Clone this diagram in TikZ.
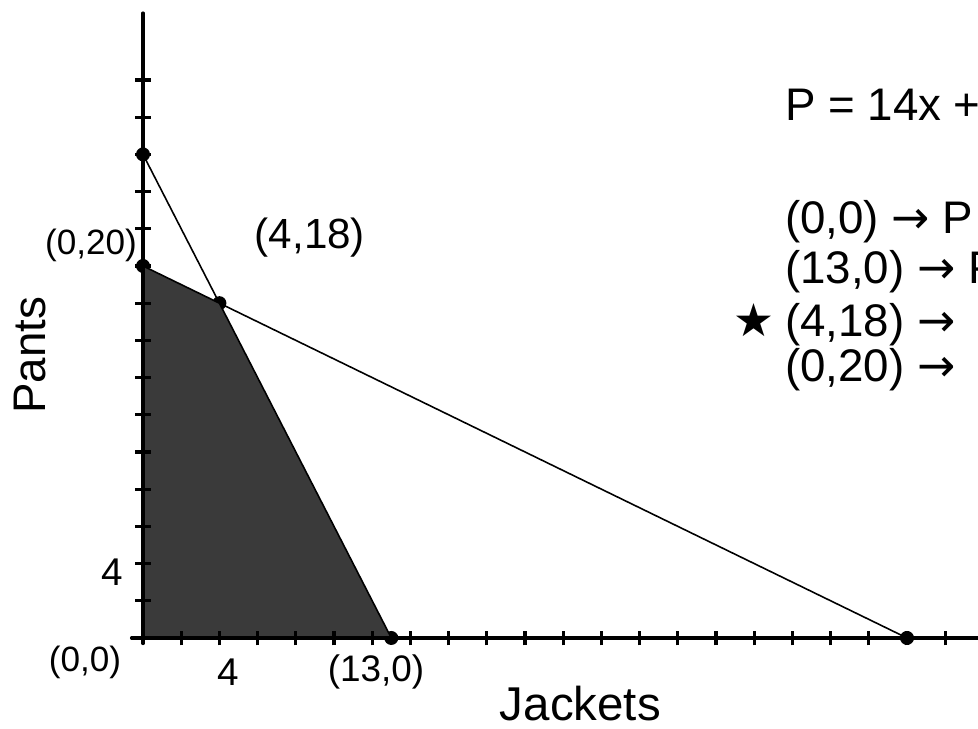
\documentclass[tikz,border=0pt]{standalone}
\usepackage{fontspec}
\setmainfont{Liberation Sans}
\newfontfamily\symfont{DejaVu Sans}
\usepackage{tikz}
\usetikzlibrary{positioning}
\definecolor{scribble}{HTML}{3A3A3A}
\newcommand{\hand}[1]{\fontsize{#1}{#1}\selectfont}

\begin{document}
\begin{tikzpicture}[
  x=0.382cm, y=0.372cm,
  axis/.style={line width=1.8pt, line cap=round},
  tick/.style={line width=1.8pt},
  edge/.style={line width=0.9pt},
  dot/.style={circle, fill=black, inner sep=0pt, minimum size=0.28cm},
  region/.style={fill=scribble},
  lbl/.style={inner sep=0pt, font=\hand{20pt}},
  big/.style={inner sep=0pt, font=\hand{26pt}}
]
  \useasboundingbox (-7.487,-4.892) rectangle (43.717,34.30);

  %% Axes
  \coordinate (o) at (0,0);
  \coordinate (xl) at (-0.6,0);
  \coordinate (xr) at (44,0);
  \coordinate (yb) at (0,-0.3);
  \coordinate (yt) at (0,33.6);

  %% Corner points
  \node[dot] (p26) at (0,26) {};
  \node[dot] (p20) at (0,20) {};
  \node[dot] (p418) at (4,18) {};
  \node[dot] (p13) at (13,0) {};
  \node[dot] (p40) at (40,0) {};

  %% Feasible region
  \fill[region] (o) -- (p20.center) -- (p418.center) -- (p13.center) -- cycle;

  \draw[axis] (xl) -- (xr);
  \draw[axis] (yb) -- (yt);
  \foreach \i in {2,4,...,42}
    \draw[tick] (\i,-0.4) -- (\i,0.4);
  \foreach \j in {2,4,...,30}
    \draw[tick] (-0.4,\j) -- (0.4,\j);

  %% Constraint lines
  \draw[edge] (p26.center) -- (p13.center);
  \draw[edge] (p20.center) -- (p40.center);

  %% Axis labels
  \node[lbl, anchor=east] (l020) at (-0.3,21.1) {(0,20)};
  \node[lbl, font=\hand{24pt}] (l418) at (8.74,21.5) {(4,18)};
  \node[lbl, font=\hand{26pt}, rotate=90] (pants) at (-5.9,15.2) {Pants};
  \node[lbl, font=\hand{22pt}] (ytick4) at (-1.62,3.55) {4};
  \node[lbl] (l00) at (-3.04,-1.34) {(0,0)};
  \node[lbl, font=\hand{22pt}] (xtick4) at (4.45,-1.83) {4};
  \node[lbl, font=\hand{21pt}] (l130) at (12.2,-1.83) {(13,0)};
  \node[lbl, font=\hand{27pt}, anchor=base] (jackets) at (22.9,-4.45) {Jackets};

  %% Profit checks
  \node[big, anchor=west] (profit) at (33.6,28.66) {P = 14x +};
  \node[big, anchor=west] (c00) at (33.6,22.37) {(0,0) {\symfont →} P};
  \node[big, anchor=west] (c130) at (33.6,19.68) {(13,0) {\symfont →} P};
  \node[big, anchor=west] (c418) at (33.6,16.83)
    {\llap{{\symfont ★}\hspace{6pt}}(4,18) {\symfont →}};
  \node[big, anchor=west] (c020) at (33.6,14.41) {(0,20) {\symfont →}};
\end{tikzpicture}
\end{document}
